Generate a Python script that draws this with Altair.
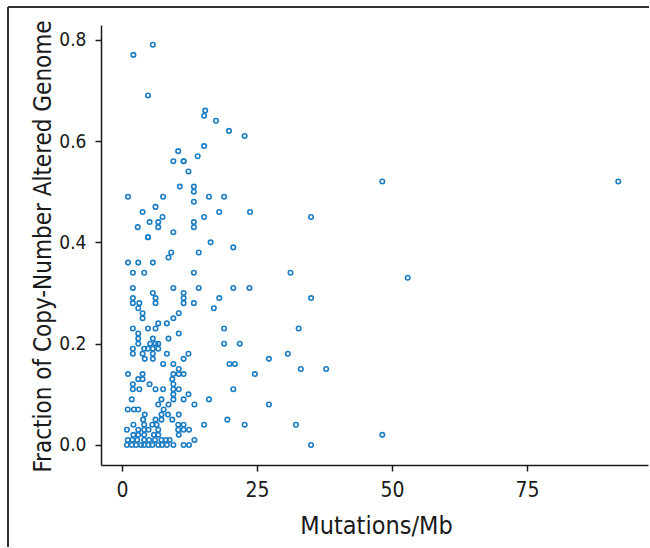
import altair as alt
import pandas as pd

mutations_per_mb = [
    5.7, 2.1, 4.8, 15.4, 15.2, 17.4, 19.8, 22.7, 15.2, 10.4, 14.0, 9.5, 11.4, 11.4, 12.3, 10.7, 13.3, 13.3, 48.2, 91.9,
    1.1, 7.6, 16.1, 18.9, 13.3, 6.2, 3.8, 18.0, 23.7, 7.5, 15.2, 35.0, 5.1, 6.7, 13.3, 2.9, 6.7, 13.3, 9.5,
    4.8, 4.8, 16.4, 20.6, 9.1, 14.2, 8.6, 1.1, 3.0, 5.7, 2.0, 4.1, 13.3, 31.2, 52.9,
    2.0, 9.5, 14.2, 20.6, 23.6, 5.7, 11.4, 2.0, 6.2, 11.4, 18.0, 35.0, 2.0, 3.2, 6.2, 11.4, 13.3, 3.0, 17.0, 3.8, 10.5, 3.8, 9.5, 6.7, 8.3,
    2.0, 4.8, 6.2, 18.9, 32.7, 3.0, 10.5, 3.0, 5.7, 8.6,
    3.0, 5.2, 6.2, 6.7, 18.9, 21.8, 2.0, 4.1, 4.8, 5.7, 6.7, 2.0, 3.8, 5.7, 8.3, 12.3, 30.7, 4.2, 5.7, 11.4, 27.2, 7.6, 9.5, 19.9, 20.9, 10.5, 33.1, 37.8,
    1.1, 3.8, 9.5, 10.5, 11.4, 24.6, 3.0, 3.8, 9.3, 2.0, 5.1, 9.5, 2.0, 3.2, 6.2, 7.6, 9.5, 10.5, 20.6, 9.5, 12.3,
    1.8, 7.3, 9.5, 11.4, 16.1, 6.7, 8.6, 13.4, 27.2, 1.05, 2.2, 3.0, 7.7, 4.2, 7.3, 8.5, 10.5, 3.9, 6.2, 7.3, 9.3, 19.5,
    2.1, 4.1, 5.6, 6.4, 10.4, 11.4, 15.2, 22.7, 32.2,
    0.9, 3.0, 4.1, 4.9, 6.7, 10.4, 11.4, 12.4,
    2.1, 3.0, 4.1, 5.9, 6.7, 10.5, 48.2,
    1.05, 1.9, 2.8, 4.1, 5.0, 6.1, 7.3, 8.1, 8.8, 13.4,
    0.9, 1.8, 2.6, 3.5, 4.1, 4.9, 5.6, 6.7, 7.4, 8.3, 9.5, 11.4, 12.4, 35.0,
]
fraction_cna = [
    0.79, 0.77, 0.69, 0.66, 0.65, 0.64, 0.62, 0.61, 0.59, 0.58, 0.57, 0.56, 0.56, 0.56, 0.54, 0.51, 0.51, 0.50, 0.52, 0.52,
    0.49, 0.49, 0.49, 0.49, 0.48, 0.47, 0.46, 0.46, 0.46, 0.45, 0.45, 0.45, 0.44, 0.44, 0.44, 0.43, 0.43, 0.43, 0.42,
    0.41, 0.41, 0.40, 0.39, 0.38, 0.38, 0.37, 0.36, 0.36, 0.36, 0.34, 0.34, 0.34, 0.34, 0.33,
    0.31, 0.31, 0.31, 0.31, 0.31, 0.30, 0.30, 0.29, 0.29, 0.29, 0.29, 0.29, 0.28, 0.28, 0.28, 0.28, 0.28, 0.27, 0.27, 0.26, 0.26, 0.25, 0.25, 0.24, 0.24,
    0.23, 0.23, 0.23, 0.23, 0.23, 0.22, 0.22, 0.21, 0.21, 0.21,
    0.20, 0.20, 0.20, 0.20, 0.20, 0.20, 0.19, 0.19, 0.19, 0.19, 0.19, 0.18, 0.18, 0.18, 0.18, 0.18, 0.18, 0.17, 0.17, 0.17, 0.17, 0.16, 0.16, 0.16, 0.16, 0.15, 0.15, 0.15,
    0.14, 0.14, 0.14, 0.14, 0.14, 0.14, 0.13, 0.13, 0.13, 0.12, 0.12, 0.12, 0.11, 0.11, 0.11, 0.11, 0.11, 0.11, 0.11, 0.10, 0.10,
    0.09, 0.09, 0.09, 0.09, 0.09, 0.08, 0.08, 0.08, 0.08, 0.07, 0.07, 0.07, 0.07, 0.06, 0.06, 0.06, 0.06, 0.05, 0.05, 0.05, 0.05, 0.05,
    0.04, 0.04, 0.04, 0.04, 0.04, 0.04, 0.04, 0.04, 0.04,
    0.03, 0.03, 0.03, 0.03, 0.03, 0.03, 0.03, 0.03,
    0.02, 0.02, 0.02, 0.02, 0.02, 0.02, 0.02,
    0.01, 0.01, 0.01, 0.01, 0.01, 0.01, 0.01, 0.01, 0.01, 0.01,
    0.0, 0.0, 0.0, 0.0, 0.0, 0.0, 0.0, 0.0, 0.0, 0.0, 0.0, 0.0, 0.0, 0.0,
]
x_ticks = [0, 25, 50, 75]
y_ticks = [0.0, 0.2, 0.4, 0.6, 0.8]

df = pd.DataFrame({"mut": mutations_per_mb, "frac": fraction_cna})

FONT = "DejaVu Sans Condensed, Liberation Sans, sans-serif"
INK = "#1a1a1a"

points = alt.Chart(df).mark_point(
    shape="circle", filled=False, size=20, strokeWidth=1.6, color="#1a7cc2", opacity=1
).encode(
    x=alt.X("mut:Q", scale=alt.Scale(domain=[-3.9, 97.4], nice=False, zero=False),
            axis=alt.Axis(values=x_ticks, title="Mutations/Mb", titleX=275, titleY=68,
                          titleBaseline="alphabetic", labelPadding=8, labelFontSize=21,
                          titleFontSize=25)),
    y=alt.Y("frac:Q", scale=alt.Scale(domain=[-0.0395, 0.829], nice=False, zero=False),
            axis=alt.Axis(values=y_ticks, format=".1f", title="Fraction of Copy-Number Altered Genome",
                          titleX=-51, titleY=221, titleBaseline="alphabetic", labelPadding=9,
                          labelFontSize=19, titleFontSize=24)),
)

frame_top = alt.Chart(df).mark_rule(color="#333333", strokeWidth=1.5, clip=False).encode(
    x=alt.value(-93), x2=alt.value(560), y=alt.value(-18)
)
frame_left = alt.Chart(df).mark_rule(color="#333333", strokeWidth=1.5, clip=False).encode(
    x=alt.value(-93), y=alt.value(-18), y2=alt.value(560)
)

chart = alt.layer(frame_top, frame_left, points).properties(
    width=547, height=440,
    background="white",
    autosize=alt.AutoSizeParams(type="none"),
    padding={"left": 101, "top": 25, "right": 1, "bottom": 82},
).configure_view(stroke=None).configure_axis(
    grid=False, domainColor=INK, domainWidth=1.5, tickColor=INK, tickWidth=1.5, tickSize=6,
    labelFont=FONT, labelColor=INK, titleFont=FONT,
    titleFontWeight="normal", titleColor=INK,
)

chart.save("out.html", embed_options={"renderer": "svg", "actions": False})
